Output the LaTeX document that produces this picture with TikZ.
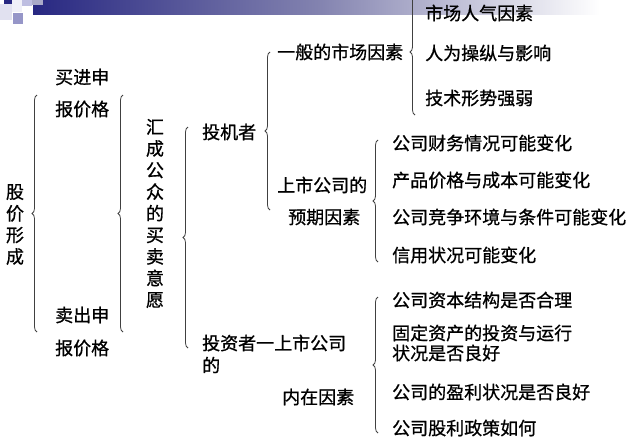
\documentclass[tikz,border=0pt]{standalone}
\usepackage{fontspec}
\setmainfont{Noto Sans CJK SC}[FakeBold=0.8]
\usetikzlibrary{decorations.pathreplacing}
\definecolor{navy}{RGB}{40,40,130}
\definecolor{lav1}{RGB}{225,225,240}
\definecolor{lav2}{RGB}{150,150,200}
\definecolor{lav3}{RGB}{190,190,225}
\definecolor{lav4}{RGB}{170,170,200}
\definecolor{lav5}{RGB}{240,240,248}
\definecolor{midg}{RGB}{130,130,175}
\begin{document}
\begin{tikzpicture}[x=1pt,y=-1pt,
  txt/.style={inner sep=0pt, anchor=west, text=black, font=\fontsize{18}{21.6}\selectfont},
  vtxt/.style={inner sep=0pt, align=center, text=black, font=\fontsize{18}{21.6}\selectfont},
  br/.style={decorate, decoration={brace, amplitude=5pt}, draw=black!75, line width=0.8pt}]
\useasboundingbox (0,0) rectangle (640,442);
\clip (0,0) rectangle (640,442);
% banner
\shade[left color=navy, right color=white, middle color=midg] (33,0) rectangle (600,14);
\fill[lav1] (0,4) rectangle (12,20);
\fill[navy] (4,0) rectangle (12,4);
\fill[lav5] (12,0) rectangle (22,12);
\fill[lav3] (22,0) rectangle (32,6);
\fill[lav4] (32,0) rectangle (43,5);
\fill[lav2] (13,13) rectangle (23,24);
% texts
\node[vtxt] (gjxc) at (15,224.5) {股\\价\\形\\成};
\node[txt] (mjs) at (55,77) {买进申};
\node[txt] (mjb) at (55,109) {报价格};
\node[txt] (mcs) at (55,315) {卖出申};
\node[txt] (mcb) at (55,348) {报价格};
\node[vtxt] (hc) at (155,213.5) {汇\\成\\公\\众\\的\\买\\卖\\意\\愿};
\node[txt] (tjz) at (202,132) {投机者};
\node[txt] (ybsc) at (277,52) {一般的市场因素};
\node[txt] (ssgs) at (277,185) {上市公司的};
\node[txt] (yqys) at (288,217) {预期因素};
\node[txt] (scrq) at (425,13) {市场人气因素};
\node[txt] (rwcz) at (425,53) {人为操纵与影响};
\node[txt] (jsxs) at (425,98) {技术形势强弱};
\node[txt] (cwqk) at (392,143) {公司财务情况可能变化};
\node[txt] (cpjg) at (392,180) {产品价格与成本可能变化};
\node[txt] (jzhj) at (392,217) {公司竞争环境与条件可能变化};
\node[txt] (xyzk) at (392,255) {信用状况可能变化};
\node[txt] (zbjg) at (392,300) {公司资本结构是否合理};
\node[txt] (gdzc) at (392,333) {固定资产的投资与运行};
\node[txt] (zkjf) at (392,353) {状况是否良好};
\node[txt] (ylzk) at (392,392) {公司的盈利状况是否良好};
\node[txt] (glzc) at (392,428) {公司股利政策如何};
\node[txt] (tzz) at (202,343) {投资者一上市公司};
\node[txt] (de) at (202,365) {的};
\node[txt] (nzys) at (282,397) {内在因素};
% brace end points
\coordinate (b1t) at (37,95);  \coordinate (b1b) at (37,332);
\coordinate (b2t) at (123,95); \coordinate (b2b) at (123,332);
\coordinate (b3t) at (188,127); \coordinate (b3b) at (188,348);
\coordinate (b4t) at (270,52); \coordinate (b4b) at (270,210);
\coordinate (b5t) at (415,-11); \coordinate (b5b) at (415,115);
\coordinate (b6t) at (378,140); \coordinate (b6b) at (378,262);
\coordinate (b7t) at (378,297); \coordinate (b7b) at (378,433);
\draw[br] (b1b) -- (b1t);
\draw[br] (b2b) -- (b2t);
\draw[br] (b3b) -- (b3t);
\draw[br] (b4b) -- (b4t);
\draw[br] (b5b) -- (b5t);
\draw[br] (b6b) -- (b6t);
\draw[br] (b7b) -- (b7t);
\end{tikzpicture}
\end{document}
